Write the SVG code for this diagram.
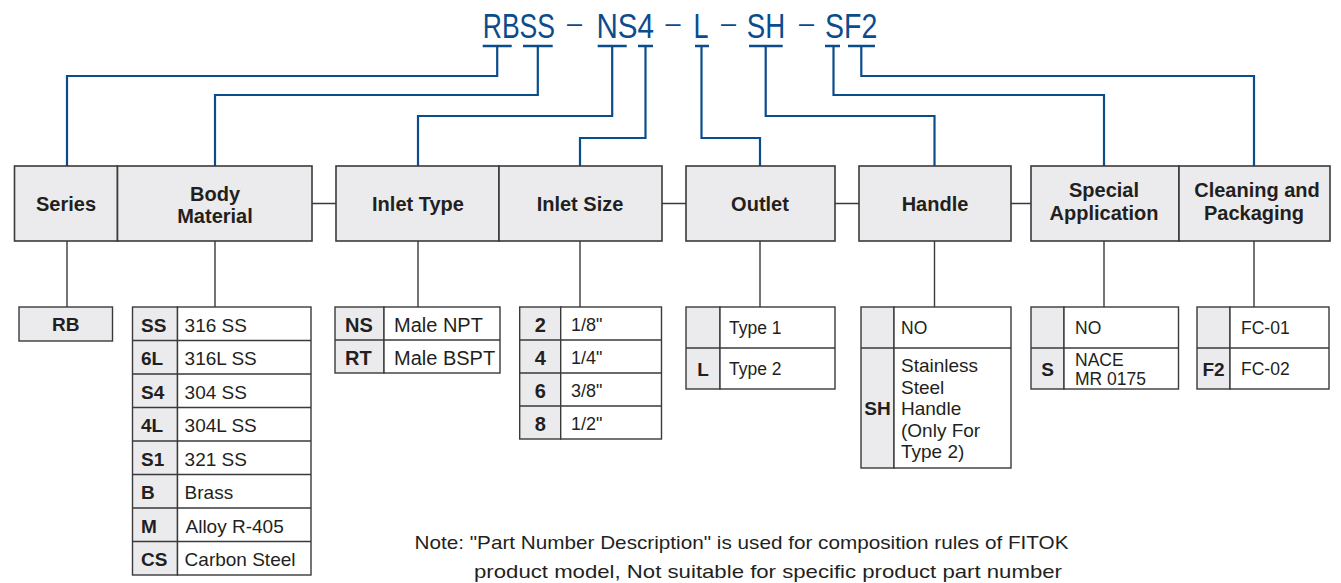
<svg xmlns="http://www.w3.org/2000/svg" width="1341" height="583" viewBox="0 0 1341 583">
<style>
.bg{fill:#ffffff}
.hdr{fill:#ebebed;stroke:#3a3a3a;stroke-width:1.6}
.code{fill:#ebebed;stroke:#3a3a3a;stroke-width:1.4}
.val{fill:#ffffff;stroke:#3a3a3a;stroke-width:1.4}
.blue{fill:none;stroke:#0b4c8c;stroke-width:2.2}
.bar{fill:none;stroke:#0b4c8c;stroke-width:2.6}
.gray{fill:none;stroke:#3a3a3a;stroke-width:1.4}
.title{font-family:"Liberation Sans",Arial,sans-serif;font-size:35px;fill:#0b4c8c}
.dash{font-family:"Liberation Sans",Arial,sans-serif;font-size:27px;fill:#0b4c8c}
.h{font-family:"Liberation Sans",Arial,sans-serif;font-size:20px;font-weight:bold;fill:#231f20;text-anchor:middle}
.cb{font-family:"Liberation Sans",Arial,sans-serif;font-size:19px;font-weight:bold;fill:#231f20}
.cbm{font-family:"Liberation Sans",Arial,sans-serif;font-size:19px;font-weight:bold;fill:#231f20;text-anchor:middle}
.t{font-family:"Liberation Sans",Arial,sans-serif;font-size:19px;fill:#231f20}
.ts{font-family:"Liberation Sans",Arial,sans-serif;font-size:17.5px;fill:#231f20}
.note{font-family:"Liberation Sans",Arial,sans-serif;font-size:19px;fill:#231f20}
</style>
<rect class="bg" x="0" y="0" width="1341" height="583"/>

<g id="title">
<text class="title" transform="translate(482.7 38.3) scale(0.759 1)">RBSS</text>
<text class="dash" x="567" y="32">–</text>
<text class="title" transform="translate(596.5 38.3) scale(0.845 1)">NS4</text>
<text class="dash" x="665.5" y="32">–</text>
<text class="title" transform="translate(693.5 38.3) scale(0.77 1)">L</text>
<text class="dash" x="721" y="32">–</text>
<text class="title" transform="translate(746.7 38.3) scale(0.79 1)">SH</text>
<text class="dash" x="799" y="32">–</text>
<text class="title" transform="translate(825 38.3) scale(0.815 1)">SF2</text>
</g>

<g id="connectors">
<path class="bar" d="M482.7 46H511.7M523 46H552.7M597.7 46H626.7M638 46H653M695 46H709M749 46H782.7M825 46H840M848 46H875"/>
<path class="blue" d="M497.2 46V76H67V166"/>
<path class="blue" d="M537.8 46V95H215V166"/>
<path class="blue" d="M612.2 46V116H418V166"/>
<path class="blue" d="M645.5 46V138H580V166"/>
<path class="blue" d="M701.5 46V138H760V166"/>
<path class="blue" d="M765.7 46V116H934.5V166"/>
<path class="blue" d="M833.5 46V95H1104V166"/>
<path class="blue" d="M861.3 46V76H1254V166"/>
<path class="gray" d="M312 203.5H336M662 203.5H686M835 203.5H859M1011 203.5H1031"/>
<path class="gray" d="M67 241V307M215 241V307M418 241V307M580 241V307M760 241V307M934.5 241V307M1104 241V307M1254 241V307"/>
</g>

<g id="node-series">
<rect class="hdr" x="14.5" y="166" width="103" height="75"/>
<text class="h" x="66" y="211">Series</text>
</g>
<g id="node-body-material">
<rect class="hdr" x="117.5" y="166" width="194.5" height="75"/>
<text class="h" x="215" y="201">Body</text>
<text class="h" x="215" y="223">Material</text>
</g>
<g id="node-inlet-type">
<rect class="hdr" x="336" y="166" width="163" height="75"/>
<text class="h" x="418" y="210.5">Inlet Type</text>
</g>
<g id="node-inlet-size">
<rect class="hdr" x="499" y="166" width="163" height="75"/>
<text class="h" x="580" y="210.5">Inlet Size</text>
</g>
<g id="node-outlet">
<rect class="hdr" x="686" y="166" width="149" height="75"/>
<text class="h" x="760" y="210.5">Outlet</text>
</g>
<g id="node-handle">
<rect class="hdr" x="859" y="166" width="152" height="75"/>
<text class="h" x="935" y="210.5">Handle</text>
</g>
<g id="node-special-application">
<rect class="hdr" x="1031" y="166" width="148" height="75"/>
<text class="h" x="1104" y="197">Special</text>
<text class="h" x="1104" y="220">Application</text>
</g>
<g id="node-cleaning-packaging">
<rect class="hdr" x="1179" y="166" width="151" height="75"/>
<text class="h" x="1257" y="197">Cleaning and</text>
<text class="h" x="1254" y="220">Packaging</text>
</g>

<g id="table-series">
<rect class="code" x="19" y="307" width="93.5" height="34"/>
<text class="cbm" x="65.7" y="331">RB</text>
</g>

<g id="table-body-material">
<rect class="code" x="132.5" y="307" width="45" height="268"/>
<rect class="val" x="177.5" y="307" width="133.5" height="268"/>
<path class="gray" d="M132.5 340.5H311M132.5 374H311M132.5 407.5H311M132.5 441H311M132.5 474.5H311M132.5 508H311M132.5 541.5H311"/>
<text class="cb" x="141" y="331.5">SS</text><text class="t" x="184.6" y="331.5">316 SS</text>
<text class="cb" x="141" y="365">6L</text><text class="t" x="184.6" y="365">316L SS</text>
<text class="cb" x="141" y="398.5">S4</text><text class="t" x="184.6" y="398.5">304 SS</text>
<text class="cb" x="141" y="432">4L</text><text class="t" x="184.6" y="432">304L SS</text>
<text class="cb" x="141" y="465.5">S1</text><text class="t" x="184.6" y="465.5">321 SS</text>
<text class="cb" x="141" y="499">B</text><text class="t" x="184.6" y="499">Brass</text>
<text class="cb" x="141" y="532.5">M</text><text class="t" x="185.5" y="532.5">Alloy R-405</text>
<text class="cb" x="141" y="566">CS</text><text class="t" x="184.6" y="566">Carbon Steel</text>
</g>

<g id="table-inlet-type">
<rect class="code" x="335" y="307" width="49" height="66"/>
<rect class="val" x="384" y="307" width="116" height="66"/>
<path class="gray" d="M335 340H500"/>
<text class="cb" x="345" y="331.5" style="font-size:20px">NS</text><text class="t" x="394" y="331.5" style="font-size:20px">Male NPT</text>
<text class="cb" x="345" y="364.5" style="font-size:20px">RT</text><text class="t" x="394" y="364.5" style="font-size:20px">Male BSPT</text>
</g>

<g id="table-inlet-size">
<rect class="code" x="519.7" y="307" width="41" height="132"/>
<rect class="val" x="560.7" y="307" width="100.8" height="132"/>
<path class="gray" d="M519.7 340H661.5M519.7 373H661.5M519.7 406H661.5"/>
<text class="cbm" x="540.2" y="331.5" style="font-size:20px">2</text><text class="ts" x="571" y="331" style="font-size:18px">1/8"</text>
<text class="cbm" x="540.2" y="364.5" style="font-size:20px">4</text><text class="ts" x="571" y="364" style="font-size:18px">1/4"</text>
<text class="cbm" x="540.2" y="397.5" style="font-size:20px">6</text><text class="ts" x="571" y="397" style="font-size:18px">3/8"</text>
<text class="cbm" x="540.2" y="430.5" style="font-size:20px">8</text><text class="ts" x="571" y="430" style="font-size:18px">1/2"</text>
</g>

<g id="table-outlet">
<rect class="code" x="686" y="307" width="34" height="82"/>
<rect class="val" x="720" y="307" width="115" height="82"/>
<path class="gray" d="M686 348H835"/>
<text class="ts" x="729" y="334">Type 1</text>
<text class="cbm" x="703" y="375.5">L</text><text class="ts" x="729" y="375">Type 2</text>
</g>

<g id="table-handle">
<rect class="code" x="861" y="307" width="33" height="161"/>
<rect class="val" x="894" y="307" width="117" height="161"/>
<path class="gray" d="M861 348H1011"/>
<text class="ts" x="901" y="334">NO</text>
<text class="cbm" x="877.5" y="415">SH</text>
<text class="t" x="901" y="372">Stainless</text>
<text class="t" x="901" y="393.5">Steel</text>
<text class="t" x="901" y="415">Handle</text>
<text class="t" x="901" y="436.5">(Only For</text>
<text class="t" x="901" y="458">Type 2)</text>
</g>

<g id="table-special-application">
<rect class="code" x="1031" y="307" width="33" height="82"/>
<rect class="val" x="1064" y="307" width="114.5" height="82"/>
<path class="gray" d="M1031 348H1178.5"/>
<text class="ts" x="1075" y="334">NO</text>
<text class="cbm" x="1047.5" y="376">S</text>
<text class="ts" x="1075" y="366">NACE</text>
<text class="ts" x="1075" y="385">MR 0175</text>
</g>

<g id="table-cleaning-packaging">
<rect class="code" x="1197" y="307" width="33" height="82"/>
<rect class="val" x="1230" y="307" width="99" height="82"/>
<path class="gray" d="M1197 348H1329"/>
<text class="ts" x="1241" y="334">FC-01</text>
<text class="cbm" x="1213.5" y="375.5">F2</text>
<text class="ts" x="1241" y="375">FC-02</text>
</g>

<g id="note">
<text class="note" x="414.5" y="549" textLength="654" lengthAdjust="spacingAndGlyphs">Note: "Part Number Description" is used for composition rules of FITOK</text>
<text class="note" x="474" y="578" textLength="588" lengthAdjust="spacingAndGlyphs">product model, Not suitable for specific product part number</text>
</g>
</svg>
